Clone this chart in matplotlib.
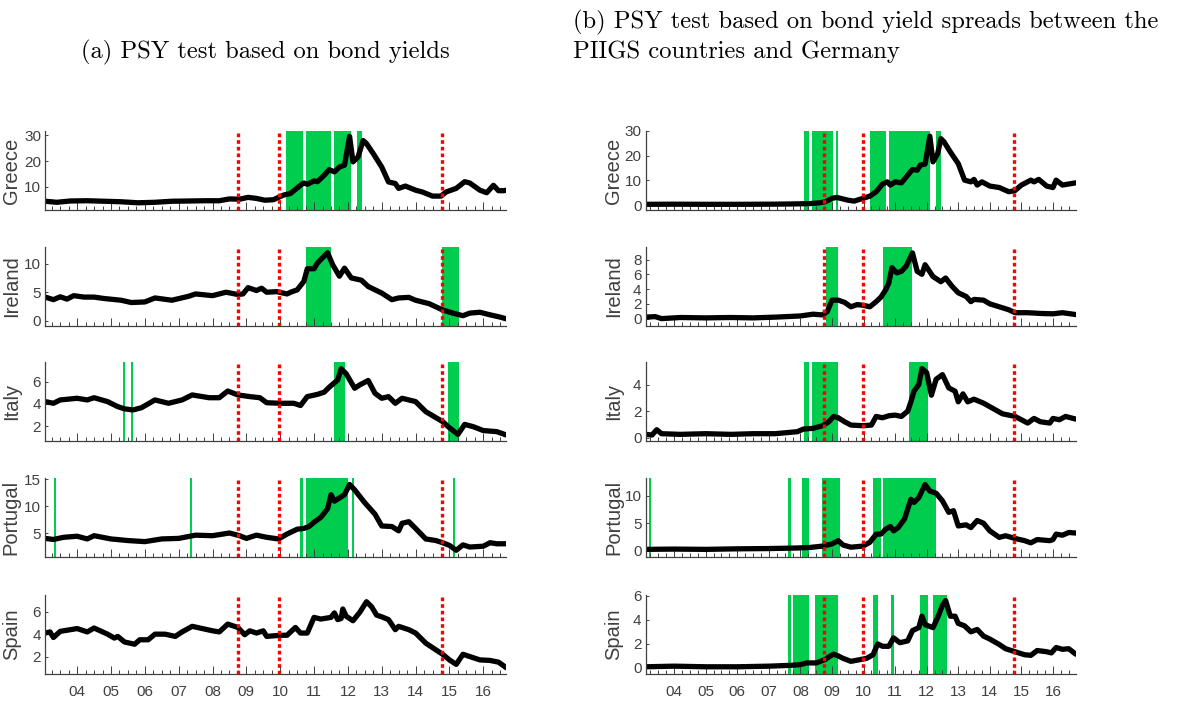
import numpy as np
import matplotlib
matplotlib.use("Agg")
import matplotlib.pyplot as plt
from matplotlib.ticker import FixedLocator, MultipleLocator, NullFormatter

# ---------------- data ----------------
countries = ["Greece", "Ireland", "Italy", "Portugal", "Spain"]
year_ticks = list(range(2004, 2017))
year_labels = ["04", "05", "06", "07", "08", "09", "10", "11", "12", "13", "14", "15", "16"]
events = [2008.75, 2009.97, 2014.77]

# (a) bond yields
gr_y_t = [2003.06, 2003.4, 2003.8, 2004.3, 2004.8, 2005.3, 2005.8, 2006.3, 2006.8, 2007.3, 2007.8, 2008.2,
          2008.5, 2008.8, 2009.05, 2009.3, 2009.55, 2009.8, 2009.95, 2010.1, 2010.3, 2010.6, 2010.7, 2010.8,
          2011.0, 2011.1, 2011.3, 2011.45, 2011.6, 2011.75, 2011.9, 2012.05, 2012.15, 2012.3, 2012.45,
          2012.55, 2012.75, 2013.0, 2013.2, 2013.4, 2013.5, 2013.7, 2014.0, 2014.2, 2014.5, 2014.75, 2014.9,
          2015.2, 2015.45, 2015.6, 2015.9, 2016.1, 2016.3, 2016.45, 2016.6, 2016.68]
gr_y_v = [4.4, 4.0, 4.5, 4.6, 4.4, 4.2, 3.8, 4.0, 4.4, 4.5, 4.6, 4.6, 5.3, 5.2, 5.9, 5.5, 4.8, 5.0, 5.9, 6.8,
          7.4, 10.6, 11.5, 11.0, 12.3, 12.0, 14.5, 16.7, 15.8, 17.7, 18.4, 29.6, 19.7, 21.6, 28.0, 26.8, 22.9,
          17.7, 11.9, 11.3, 9.4, 10.3, 8.7, 8.0, 6.4, 6.4, 8.0, 9.4, 12.0, 11.5, 8.7, 7.7, 10.6, 8.5, 8.5, 8.7]

ie_y_t = [2003.06, 2003.3, 2003.5, 2003.7, 2003.9, 2004.2, 2004.5, 2004.8, 2005.3, 2005.6, 2006.0, 2006.3,
          2006.8, 2007.3, 2007.5, 2008.0, 2008.4, 2008.75, 2008.9, 2009.05, 2009.3, 2009.45, 2009.6, 2009.9,
          2010.2, 2010.35, 2010.5, 2010.7, 2010.8, 2011.0, 2011.1, 2011.4, 2011.55, 2011.75, 2011.9, 2012.1,
          2012.4, 2012.6, 2013.0, 2013.3, 2013.5, 2013.8, 2014.0, 2014.4, 2014.8, 2015.1, 2015.4, 2015.6,
          2015.9, 2016.2, 2016.5, 2016.68]
ie_y_v = [4.15, 3.7, 4.2, 3.8, 4.4, 4.15, 4.15, 3.9, 3.6, 3.2, 3.3, 4.0, 3.6, 4.3, 4.7, 4.4, 5.0, 4.6, 4.7,
          5.8, 5.3, 5.7, 5.0, 5.1, 4.7, 5.1, 5.4, 6.9, 9.1, 9.1, 10.1, 11.9, 9.8, 7.8, 9.2, 7.5, 7.1, 6.0,
          4.85, 3.7, 4.0, 4.1, 3.6, 3.0, 1.9, 1.35, 0.9, 1.35, 1.5, 1.05, 0.65, 0.35]

it_y_t = [2003.06, 2003.3, 2003.5, 2004.0, 2004.3, 2004.5, 2004.9, 2005.2, 2005.4, 2005.65, 2005.9, 2006.3,
          2006.7, 2007.1, 2007.4, 2007.9, 2008.2, 2008.45, 2008.75, 2009.1, 2009.4, 2009.6, 2010.0, 2010.4,
          2010.6, 2010.8, 2011.1, 2011.3, 2011.45, 2011.7, 2011.8, 2011.95, 2012.2, 2012.35, 2012.6, 2012.8,
          2013.0, 2013.2, 2013.4, 2013.6, 2014.0, 2014.3, 2014.8, 2015.0, 2015.25, 2015.45, 2015.7, 2016.0,
          2016.4, 2016.68]
it_y_v = [4.2, 4.05, 4.35, 4.5, 4.35, 4.55, 4.2, 3.75, 3.55, 3.45, 3.65, 4.35, 4.05, 4.35, 4.8, 4.55, 4.55,
          5.15, 4.8, 4.65, 4.55, 4.1, 4.05, 4.05, 3.85, 4.65, 4.85, 5.05, 5.5, 6.15, 7.15, 6.7, 5.4, 5.7, 6.1,
          4.95, 4.5, 4.65, 4.05, 4.5, 4.2, 3.3, 2.4, 1.85, 1.25, 2.15, 1.95, 1.6, 1.5, 1.2]

pt_y_t = [2003.06, 2003.3, 2003.6, 2004.0, 2004.3, 2004.5, 2005.0, 2005.5, 2006.0, 2006.5, 2007.0, 2007.5,
          2008.0, 2008.5, 2008.8, 2009.0, 2009.3, 2009.6, 2009.95, 2010.2, 2010.5, 2010.7, 2010.85, 2011.0,
          2011.2, 2011.4, 2011.5, 2011.6, 2011.9, 2012.05, 2012.2, 2012.5, 2012.8, 2013.0, 2013.3, 2013.5,
          2013.6, 2013.8, 2014.0, 2014.3, 2014.6, 2014.8, 2015.0, 2015.2, 2015.4, 2015.6, 2016.0, 2016.2,
          2016.4, 2016.68]
pt_y_v = [4.0, 3.8, 4.2, 4.4, 3.9, 4.5, 3.9, 3.6, 3.4, 3.9, 4.0, 4.6, 4.5, 5.0, 4.5, 4.0, 4.6, 4.2, 3.9, 4.8,
          5.7, 5.85, 6.2, 7.0, 7.9, 9.5, 12.1, 10.9, 12.1, 14.0, 13.0, 10.6, 8.5, 6.3, 6.2, 5.4, 6.8, 7.1,
          5.85, 3.9, 3.6, 3.2, 2.7, 1.8, 2.8, 2.4, 2.55, 3.2, 3.0, 3.0]

es_y_t = [2003.06, 2003.2, 2003.3, 2003.5, 2003.8, 2004.0, 2004.3, 2004.5, 2004.9, 2005.1, 2005.2, 2005.4,
          2005.7, 2005.85, 2006.1, 2006.3, 2006.6, 2006.9, 2007.1, 2007.4, 2007.7, 2008.0, 2008.2, 2008.45,
          2008.75, 2008.95, 2009.1, 2009.3, 2009.5, 2009.6, 2010.0, 2010.2, 2010.45, 2010.6, 2010.8, 2011.0,
          2011.2, 2011.5, 2011.6, 2011.7, 2011.8, 2011.85, 2011.95, 2012.15, 2012.35, 2012.55, 2012.7,
          2012.85, 2013.0, 2013.2, 2013.4, 2013.5, 2013.8, 2014.0, 2014.3, 2014.6, 2014.8, 2015.0, 2015.2,
          2015.4, 2015.6, 2015.9, 2016.2, 2016.45, 2016.68]
es_y_v = [4.1, 4.2, 3.7, 4.25, 4.4, 4.5, 4.2, 4.55, 4.0, 3.65, 3.8, 3.3, 3.1, 3.5, 3.5, 4.0, 4.0, 3.8, 4.2,
          4.7, 4.5, 4.3, 4.2, 4.9, 4.6, 3.95, 4.3, 4.1, 4.3, 3.8, 3.9, 3.9, 4.6, 4.1, 4.1, 5.5, 5.35, 5.5,
          5.9, 5.3, 5.4, 6.25, 5.6, 5.2, 5.95, 6.9, 6.45, 5.7, 5.55, 5.3, 4.4, 4.7, 4.4, 4.1, 3.2, 2.6, 2.2,
          1.7, 1.3, 2.2, 2.0, 1.7, 1.65, 1.5, 1.0]

# (b) spreads against Germany
gr_s_t = [2003.1, 2004.0, 2005.0, 2006.0, 2007.0, 2007.8, 2008.3, 2008.6, 2008.78, 2009.0, 2009.15, 2009.5,
          2009.7, 2009.98, 2010.2, 2010.4, 2010.6, 2010.75, 2010.85, 2011.0, 2011.2, 2011.4, 2011.55, 2011.7,
          2011.8, 2011.95, 2012.1, 2012.2, 2012.35, 2012.45, 2012.55, 2012.75, 2013.0, 2013.2, 2013.4,
          2013.5, 2013.6, 2013.75, 2014.0, 2014.3, 2014.6, 2014.79, 2015.0, 2015.3, 2015.4, 2015.55, 2015.8,
          2016.0, 2016.1, 2016.3, 2016.72]
gr_s_v = [0.3, 0.35, 0.3, 0.3, 0.35, 0.45, 0.6, 0.9, 1.3, 2.7, 3.1, 2.0, 1.6, 2.7, 3.6, 5.4, 8.5, 9.4, 8.1,
          9.4, 9.0, 12.1, 14.4, 14.1, 16.2, 16.6, 27.9, 17.5, 20.9, 26.9, 25.6, 21.5, 16.8, 10.1, 9.4, 10.4,
          8.1, 9.4, 7.7, 7.1, 5.4, 5.8, 8.1, 10.1, 9.4, 10.4, 7.7, 7.1, 10.1, 8.1, 9.0]

ie_s_t = [2003.1, 2003.4, 2003.6, 2004.2, 2005.0, 2005.8, 2006.5, 2007.2, 2008.0, 2008.4, 2008.7, 2008.85,
          2009.0, 2009.2, 2009.4, 2009.6, 2009.8, 2010.0, 2010.2, 2010.4, 2010.55, 2010.7, 2010.8, 2010.9,
          2011.05, 2011.2, 2011.35, 2011.55, 2011.7, 2011.85, 2011.95, 2012.2, 2012.45, 2012.6, 2012.8,
          2013.0, 2013.25, 2013.4, 2013.5, 2013.8, 2014.0, 2014.3, 2014.6, 2014.8, 2015.2, 2015.6, 2016.0,
          2016.3, 2016.72]
ie_s_v = [0.2, 0.27, 0.0, 0.15, 0.1, 0.15, 0.1, 0.2, 0.36, 0.6, 0.5, 0.95, 2.5, 2.5, 2.2, 1.6, 1.9, 1.8,
          1.6, 2.3, 2.9, 3.9, 4.8, 6.9, 6.2, 6.4, 7.1, 8.9, 6.4, 6.0, 7.3, 5.7, 5.0, 5.5, 4.4, 3.5, 3.0, 2.3,
          2.6, 2.5, 2.0, 1.6, 1.2, 0.8, 0.8, 0.7, 0.65, 0.8, 0.55]

it_s_t = [2003.1, 2003.3, 2003.45, 2003.6, 2004.2, 2005.0, 2005.8, 2006.5, 2007.2, 2007.9, 2008.1, 2008.4,
          2008.7, 2008.9, 2009.05, 2009.2, 2009.4, 2009.6, 2010.0, 2010.25, 2010.4, 2010.6, 2010.8, 2011.0,
          2011.2, 2011.4, 2011.5, 2011.6, 2011.75, 2011.85, 2012.0, 2012.15, 2012.3, 2012.5, 2012.7, 2012.9,
          2013.0, 2013.15, 2013.3, 2013.5, 2013.8, 2014.1, 2014.4, 2014.8, 2015.0, 2015.2, 2015.4, 2015.6,
          2015.9, 2016.0, 2016.2, 2016.4, 2016.72]
it_s_v = [0.25, 0.2, 0.6, 0.3, 0.25, 0.3, 0.25, 0.3, 0.3, 0.45, 0.65, 0.7, 0.9, 1.2, 1.6, 1.5, 1.2, 0.95,
          0.9, 0.95, 1.6, 1.5, 1.65, 1.7, 1.6, 2.0, 2.7, 3.5, 4.0, 5.2, 4.9, 3.2, 4.4, 4.75, 3.75, 3.5, 2.7,
          3.3, 2.7, 2.9, 2.6, 2.2, 1.8, 1.6, 1.35, 1.1, 1.45, 1.2, 1.1, 1.45, 1.35, 1.6, 1.4]

pt_s_t = [2003.1, 2004.0, 2005.0, 2006.0, 2007.0, 2007.9, 2008.3, 2008.7, 2009.0, 2009.2, 2009.35, 2009.6,
          2009.98, 2010.2, 2010.4, 2010.55, 2010.7, 2010.85, 2010.95, 2011.1, 2011.3, 2011.5, 2011.6,
          2011.75, 2011.95, 2012.1, 2012.3, 2012.5, 2012.7, 2012.85, 2013.0, 2013.25, 2013.4, 2013.6,
          2013.8, 2014.0, 2014.3, 2014.5, 2014.8, 2015.1, 2015.3, 2015.5, 2015.9, 2016.0, 2016.1, 2016.3,
          2016.5, 2016.72]
pt_s_v = [0.2, 0.25, 0.2, 0.3, 0.35, 0.45, 0.55, 0.8, 1.2, 1.8, 1.0, 0.6, 0.8, 1.5, 3.0, 3.0, 3.9, 4.4, 3.6,
          4.2, 5.8, 9.4, 8.8, 9.7, 12.1, 10.9, 10.5, 9.1, 7.0, 7.3, 4.5, 4.7, 4.2, 5.5, 5.0, 3.6, 2.4, 2.7,
          2.2, 1.8, 1.4, 2.0, 1.8, 2.0, 3.0, 2.8, 3.3, 3.2]

es_s_t = [2003.1, 2004.0, 2005.0, 2006.0, 2007.0, 2007.7, 2008.0, 2008.2, 2008.5, 2008.78, 2008.95, 2009.05,
          2009.2, 2009.35, 2009.6, 2009.9, 2010.1, 2010.3, 2010.45, 2010.6, 2010.8, 2010.95, 2011.15,
          2011.4, 2011.55, 2011.75, 2011.85, 2011.95, 2012.2, 2012.35, 2012.5, 2012.6, 2012.75, 2012.9,
          2013.0, 2013.2, 2013.4, 2013.6, 2013.8, 2014.0, 2014.3, 2014.5, 2014.8, 2015.1, 2015.3, 2015.5,
          2015.8, 2015.95, 2016.1, 2016.3, 2016.5, 2016.72]
es_s_v = [0.1, 0.15, 0.1, 0.1, 0.15, 0.22, 0.28, 0.42, 0.42, 0.7, 1.0, 1.15, 1.0, 0.8, 0.55, 0.7, 0.8, 1.1,
          2.0, 1.8, 1.8, 2.5, 2.1, 2.25, 3.1, 3.35, 4.3, 3.6, 3.35, 4.2, 5.2, 5.6, 4.3, 4.3, 3.7, 3.5, 3.0,
          3.2, 2.65, 2.4, 1.95, 1.6, 1.35, 1.1, 1.05, 1.45, 1.35, 1.25, 1.7, 1.55, 1.6, 1.15]

# PSY bubble periods (start, end) in decimal years
gr_y_bands = [(2010.18, 2010.67), (2010.77, 2011.50), (2011.60, 2012.09), (2012.27, 2012.42)]
ie_y_bands = [(2010.77, 2011.50), (2014.78, 2015.27)]
it_y_bands = [(2005.35, 2005.41), (2005.59, 2005.65), (2011.60, 2011.92), (2014.95, 2015.27)]
pt_y_bands = [(2003.33, 2003.38), (2007.34, 2007.39), (2010.59, 2010.66), (2010.76, 2012.00),
              (2012.12, 2012.17), (2015.12, 2015.17)]
es_y_bands = []
gr_s_bands = [(2008.11, 2008.28), (2008.37, 2009.04), (2009.12, 2009.20), (2010.22, 2010.70), (2010.80, 2012.12),
              (2012.31, 2012.45)]
ie_s_bands = [(2008.80, 2009.20), (2010.62, 2011.53)]
it_s_bands = [(2008.11, 2008.28), (2008.37, 2009.20), (2011.45, 2012.03)]
pt_s_bands = [(2003.19, 2003.26), (2007.62, 2007.69), (2008.04, 2008.28), (2008.70, 2009.27), (2010.29, 2010.54),
              (2010.62, 2012.29)]
es_s_bands = [(2007.62, 2007.69), (2007.78, 2008.28), (2008.45, 2009.20), (2010.29, 2010.45), (2010.87, 2010.95),
              (2011.78, 2012.03), (2012.21, 2012.63)]

yield_series = [(gr_y_t, gr_y_v, gr_y_bands), (ie_y_t, ie_y_v, ie_y_bands), (it_y_t, it_y_v, it_y_bands),
                (pt_y_t, pt_y_v, pt_y_bands), (es_y_t, es_y_v, es_y_bands)]
spread_series = [(gr_s_t, gr_s_v, gr_s_bands), (ie_s_t, ie_s_v, ie_s_bands), (it_s_t, it_s_v, it_s_bands),
                 (pt_s_t, pt_s_v, pt_s_bands), (es_s_t, es_s_v, es_s_bands)]

yield_ylims = [(1.0, 31.7), (-0.9, 12.9), (0.66, 7.76), (0.55, 15.2), (0.44, 7.5)]
spread_ylims = [(-2.0, 30.0), (-1.0, 9.7), (-0.25, 5.7), (-1.2, 13.3), (-0.5, 6.06)]
yield_yticks = [[10, 20, 30], [0, 5, 10], [2, 4, 6], [5, 10, 15], [2, 4, 6]]
spread_yticks = [[0, 10, 20, 30], [0, 2, 4, 6, 8], [0, 2, 4], [0, 5, 10], [0, 2, 4, 6]]

# ---------------- style / layout ----------------
W, H = 1177, 706
GREEN = "#00cc4e"
GREY = "#404040"
TICKFONT = ["Liberation Sans Narrow", "Liberation Sans", "DejaVu Sans"]
row_tops = [131, 247, 362, 478, 595]
row_h = 79
cols = [(45.3, 461.0), (645.7, 430.3)]
xlims = [(2003.06, 2016.68), (2003.10, 2016.73)]

fig = plt.figure(figsize=(W / 100, H / 100), dpi=100)


def draw(ax, t, v, bands, ylim, yticks, name, xlim, show_xlabels):
    for a, b in bands:
        ax.axvspan(a, b, color=GREEN, lw=0, zorder=1)
    ax.plot(t, v, color="black", lw=3.8, solid_joinstyle="round", solid_capstyle="round", zorder=3)
    for e in events:
        ax.axvline(e, color="#ff0000", lw=2.4, linestyle=(0, (1.1, 0.9)), zorder=4)
    ax.set_xlim(*xlim)
    ax.set_ylim(*ylim)
    ax.set_yticks(yticks)
    ax.xaxis.set_major_locator(FixedLocator(year_ticks))
    ax.xaxis.set_minor_locator(MultipleLocator(0.25))
    if show_xlabels:
        ax.set_xticklabels(year_labels)
    else:
        ax.xaxis.set_major_formatter(NullFormatter())
    for s in ("top", "right"):
        ax.spines[s].set_visible(False)
    for s in ("left", "bottom"):
        ax.spines[s].set_color(GREY)
        ax.spines[s].set_linewidth(0.9)
        ax.spines[s].set_zorder(5)
    ax.tick_params(axis="x", which="major", direction="in", length=6, width=0.7, color=GREY,
                   labelcolor=GREY, pad=8)
    ax.tick_params(axis="x", which="minor", direction="in", length=2.6, width=0.7, color=GREY)
    ax.tick_params(axis="y", which="major", direction="in", length=2.5, width=0.7, color=GREY,
                   labelcolor=GREY, pad=3)
    for lab in ax.get_xticklabels() + ax.get_yticklabels():
        lab.set_family(TICKFONT)
        lab.set_fontsize(11)
    ax.set_ylabel(name, family=["Liberation Sans", "DejaVu Sans"], fontsize=14.5, color=GREY)
    ax.yaxis.set_label_coords(-0.053, 0.5)
    ax.patch.set_alpha(0)


for c, (series, ylims, yts) in enumerate([(yield_series, yield_ylims, yield_yticks),
                                          (spread_series, spread_ylims, spread_yticks)]):
    x0, w = cols[c]
    for r in range(5):
        top = row_tops[r]
        ax = fig.add_axes([x0 / W, 1 - (top + row_h) / H, w / W, row_h / H])
        t, v, bands = series[r]
        draw(ax, t, v, bands, ylims[r], yts[r], countries[r], xlims[c], r == 4)

fig.text(265 / W, 1 - 52 / H, "(a) PSY test based on bond yields", family="cmr10", fontsize=17.7,
         ha="center", va="center", color="black")
fig.text(573 / W, 1 - 22 / H, "(b) PSY test based on bond yield spreads between the", family="cmr10",
         fontsize=17.7, ha="left", va="center", color="black")
fig.text(573 / W, 1 - 52 / H, "PIIGS countries and Germany", family="cmr10", fontsize=17.7,
         ha="left", va="center", color="black")

fig.savefig("out.png", dpi=100, facecolor="white")
